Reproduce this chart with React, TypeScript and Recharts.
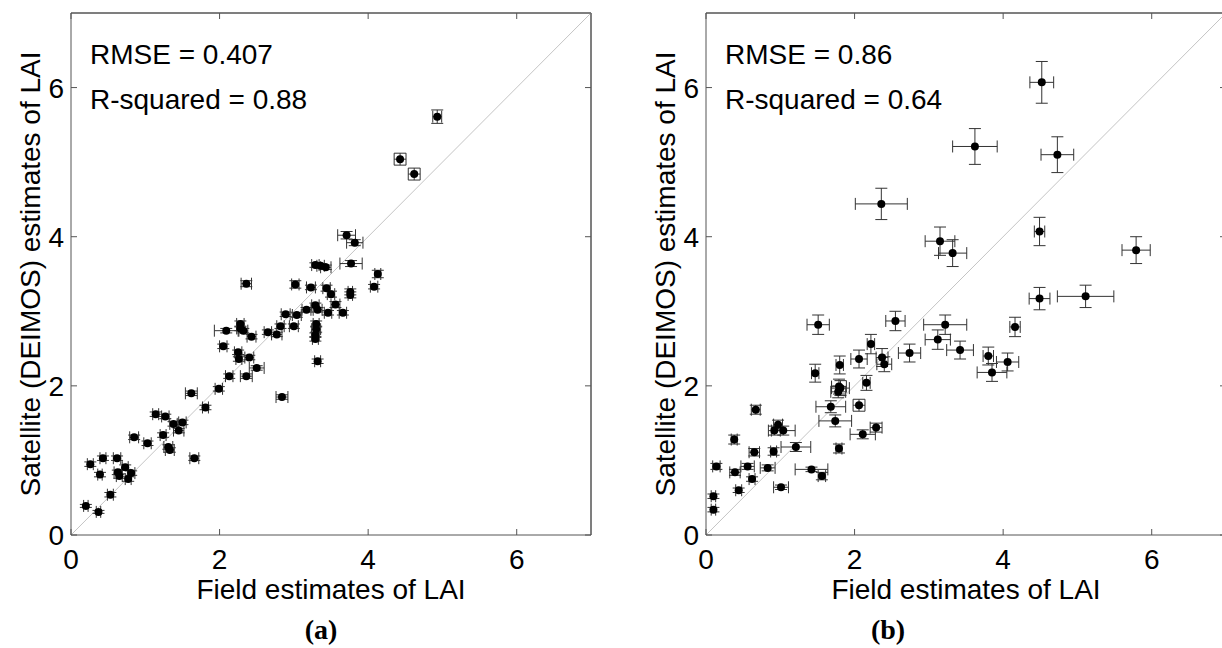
import React from "react";
import { ScatterChart, Scatter, XAxis, YAxis, ErrorBar, ReferenceLine, Label } from "recharts";

// axis ticks shared by both panels
const tickValues = [0, 2, 4, 6];
const axisDomain = [0, 7];

// panel (a): field LAI vs satellite LAI, with x / y error half-widths
const fieldA = [
  4.93, 4.43, 4.62, 3.71, 3.82, 3.77, 3.29, 3.36, 3.43, 4.13, 4.08, 2.36, 3.02, 3.23, 3.44, 3.5, 3.76, 3.76, 3.56,
  3.29, 3.32, 3.17, 3.46, 3.66, 2.89, 3.04, 2.28, 2.28, 2.09, 2.32, 2.43, 2.65, 2.77, 2.82, 3.0, 3.3, 3.3, 3.29,
  3.29, 3.32, 2.05, 2.25, 2.26, 2.4, 2.5, 2.13, 2.36, 1.99, 1.62, 2.84, 1.81, 1.14, 1.27, 1.38, 1.5, 1.45, 1.24,
  0.85, 1.03, 1.31, 1.33, 1.66, 0.43, 0.62, 0.26, 0.73, 0.63, 0.65, 0.39, 0.81, 0.77, 0.53, 0.2, 0.37,
];
const satA = [
  5.61, 5.04, 4.84, 4.02, 3.92, 3.64, 3.62, 3.61, 3.59, 3.5, 3.33, 3.37, 3.36, 3.32, 3.31, 3.23, 3.26, 3.22, 3.09,
  3.08, 3.02, 3.02, 2.98, 2.98, 2.96, 2.95, 2.83, 2.77, 2.74, 2.74, 2.66, 2.72, 2.69, 2.8, 2.8, 2.83, 2.76, 2.68,
  2.63, 2.33, 2.53, 2.45, 2.36, 2.38, 2.24, 2.13, 2.13, 1.96, 1.9, 1.85, 1.71, 1.62, 1.59, 1.49, 1.51, 1.4, 1.34,
  1.31, 1.23, 1.18, 1.14, 1.03, 1.03, 1.03, 0.95, 0.91, 0.84, 0.79, 0.81, 0.83, 0.75, 0.54, 0.39, 0.31,
];
const errFieldA = [
  0.06, 0.08, 0.08, 0.12, 0.11, 0.15, 0.05, 0.05, 0.07, 0.04, 0.05, 0.07, 0.05, 0.06, 0.05, 0.05, 0.03, 0.03, 0.06,
  0.05, 0.06, 0.06, 0.05, 0.05, 0.06, 0.06, 0.05, 0.05, 0.16, 0.06, 0.06, 0.05, 0.07, 0.05, 0.06, 0.04, 0.06, 0.05,
  0.04, 0.04, 0.05, 0.05, 0.04, 0.06, 0.1, 0.05, 0.08, 0.05, 0.08, 0.08, 0.04, 0.04, 0.05, 0.05, 0.05, 0.07, 0.04,
  0.06, 0.05, 0.06, 0.06, 0.06, 0.04, 0.05, 0.04, 0.04, 0.05, 0.04, 0.03, 0.05, 0.04, 0.04, 0.03, 0.03,
];
const errSatA = [
  0.09, 0.08, 0.08, 0.05, 0.04, 0.04, 0.03, 0.03, 0.03, 0.05, 0.03, 0.04, 0.05, 0.03, 0.04, 0.04, 0.04, 0.04, 0.04,
  0.03, 0.03, 0.03, 0.03, 0.03, 0.03, 0.03, 0.04, 0.03, 0.03, 0.03, 0.03, 0.03, 0.03, 0.03, 0.03, 0.04, 0.04, 0.03,
  0.03, 0.03, 0.03, 0.03, 0.03, 0.03, 0.03, 0.03, 0.03, 0.03, 0.03, 0.03, 0.03, 0.03, 0.03, 0.03, 0.03, 0.03, 0.03,
  0.03, 0.03, 0.03, 0.03, 0.03, 0.03, 0.03, 0.03, 0.03, 0.03, 0.03, 0.03, 0.03, 0.03, 0.03, 0.02, 0.02,
];

// panel (b)
const fieldB = [
  4.52, 3.62, 4.73, 2.36, 4.49, 3.15, 3.32, 5.79, 4.49, 5.11, 1.51, 2.55, 3.22, 4.16, 3.12, 2.22, 3.42, 2.74, 2.37,
  2.06, 3.8, 4.06, 3.85, 2.4, 1.8, 1.47, 2.16, 1.79, 1.81, 1.78, 1.68, 2.06, 1.74, 0.67, 0.97, 0.92, 1.04, 2.29,
  2.11, 1.21, 0.38, 1.79, 0.65, 0.91, 0.14, 0.56, 0.83, 1.42, 1.56, 0.39, 0.62, 1.01, 0.44, 0.1, 0.1,
];
const satB = [
  6.07, 5.21, 5.1, 4.44, 4.07, 3.94, 3.78, 3.82, 3.17, 3.2, 2.82, 2.87, 2.82, 2.79, 2.62, 2.56, 2.48, 2.44, 2.38,
  2.36, 2.4, 2.32, 2.18, 2.29, 2.28, 2.17, 2.04, 1.99, 1.97, 1.92, 1.72, 1.74, 1.53, 1.68, 1.48, 1.4, 1.4, 1.44,
  1.35, 1.18, 1.28, 1.16, 1.11, 1.12, 0.92, 0.92, 0.9, 0.88, 0.79, 0.84, 0.75, 0.64, 0.6, 0.52, 0.34,
];
const errFieldB = [
  0.16, 0.3, 0.22, 0.35, 0.07, 0.2, 0.19, 0.19, 0.14, 0.38, 0.15, 0.13, 0.29, 0.07, 0.17, 0.05, 0.18, 0.15, 0.08,
  0.11, 0.07, 0.15, 0.2, 0.1, 0.05, 0.05, 0.05, 0.1, 0.12, 0.1, 0.2, 0.08, 0.22, 0.06, 0.06, 0.08, 0.16, 0.08,
  0.17, 0.2, 0.04, 0.04, 0.07, 0.04, 0.05, 0.09, 0.1, 0.22, 0.05, 0.07, 0.04, 0.1, 0.04, 0.03, 0.03,
];
const errSatB = [
  0.28, 0.24, 0.24, 0.21, 0.19, 0.19, 0.18, 0.18, 0.15, 0.15, 0.13, 0.13, 0.13, 0.13, 0.13, 0.13, 0.12, 0.12, 0.12,
  0.12, 0.12, 0.12, 0.12, 0.1, 0.12, 0.12, 0.1, 0.1, 0.1, 0.08, 0.08, 0.08, 0.08, 0.06, 0.06, 0.06, 0.06, 0.06,
  0.06, 0.06, 0.06, 0.06, 0.05, 0.05, 0.04, 0.04, 0.04, 0.03, 0.05, 0.04, 0.03, 0.03, 0.03, 0.03, 0.03,
];

const build = (xs: number[], ys: number[], ex: number[], ey: number[]) =>
  xs.map((x, i) => ({ x, y: ys[i], ex: ex[i], ey: ey[i] }));

const dataA = build(fieldA, satA, errFieldA, errSatA);
const dataB = build(fieldB, satB, errFieldB, errSatB);

const FONT = "'Liberation Sans', Arial, sans-serif";
const BOX = "#555";
const tickStyle = { fill: "#000", fontSize: 28, fontFamily: FONT };

const Dot = (p: any) => <circle cx={p.cx} cy={p.cy} r={4} fill="#000" />;
const NoDot = () => <g />;
const NoTickLabel = () => <g />;

function Panel({ data, rmse, r2 }: { data: any[]; rmse: string; r2: string }) {
  const yAxisW = 71;
  const plotW = 520;
  const width = yAxisW + plotW + 2;
  return (
    <div style={{ position: "relative", width, height: 648 }}>
      <ScatterChart width={width} height={648} margin={{ top: 12, right: 1, bottom: 73, left: 0 }}>
        <XAxis
          type="number"
          dataKey="x"
          domain={axisDomain}
          ticks={tickValues}
          height={40}
          tickSize={-6}
          tickMargin={20}
          stroke={BOX}
          tick={tickStyle}
        >
          <Label
            content={(p: any) => (
              <text
                x={p.viewBox.x + p.viewBox.width / 2}
                y={p.viewBox.y + 64}
                textAnchor="middle"
                fontSize={28}
                fontFamily={FONT}
                fill="#000"
              >
                Field estimates of LAI
              </text>
            )}
          />
        </XAxis>
        <XAxis
          xAxisId="top"
          orientation="top"
          type="number"
          dataKey="x"
          domain={axisDomain}
          ticks={tickValues}
          height={1}
          tickSize={-6}
          tick={NoTickLabel}
          stroke={BOX}
        />
        <YAxis
          type="number"
          dataKey="y"
          domain={axisDomain}
          ticks={tickValues}
          width={yAxisW}
          tickSize={-6}
          tickMargin={13}
          stroke={BOX}
          tick={tickStyle}
        >
          <Label
            content={(p: any) => (
              <text
                transform={`translate(${p.viewBox.x + 40}, ${p.viewBox.y + p.viewBox.height / 2}) rotate(-90)`}
                textAnchor="middle"
                fontSize={28}
                fontFamily={FONT}
                fill="#000"
              >
                Satellite (DEIMOS) estimates of LAI
              </text>
            )}
          />
        </YAxis>
        <YAxis
          yAxisId="right"
          orientation="right"
          type="number"
          dataKey="y"
          domain={axisDomain}
          ticks={tickValues}
          width={1}
          tickSize={-6}
          tick={NoTickLabel}
          stroke={BOX}
        />
        <ReferenceLine x={7} stroke={BOX} strokeWidth={1} />
        <ReferenceLine y={7} stroke={BOX} strokeWidth={1} />
        <ReferenceLine
          segment={[
            { x: 0, y: 0 },
            { x: 7, y: 7 },
          ]}
          stroke="#c4c4c4"
          strokeWidth={1}
        />
        {/* invisible series so the top / right axes are drawn */}
        <Scatter data={data} xAxisId="top" yAxisId="right" shape={NoDot} isAnimationActive={false} />
        <Scatter data={data} shape={Dot} fill="#000" isAnimationActive={false}>
          <ErrorBar dataKey="ex" direction="x" width={6} stroke="#333" strokeWidth={1} isAnimationActive={false} />
          <ErrorBar dataKey="ey" direction="y" width={6} stroke="#333" strokeWidth={1} isAnimationActive={false} />
        </Scatter>
      </ScatterChart>
      <svg width={width} height={648} style={{ position: "absolute", left: 0, top: 0, pointerEvents: "none" }}>
        <text x={yAxisW + 19} y={64} fontSize={28} fontFamily={FONT} fill="#000">
          {rmse}
        </text>
        <text x={yAxisW + 19} y={109} fontSize={28} fontFamily={FONT} fill="#000">
          {r2}
        </text>
      </svg>
    </div>
  );
}

export default function App() {
  return (
    <div
      style={{
        position: "absolute",
        left: 0,
        top: 0,
        width: 1222,
        height: 648,
        overflow: "hidden",
        background: "#fff",
      }}
    >
      <div style={{ position: "absolute", left: 0, top: 0 }}>
        <Panel data={dataA} rmse="RMSE = 0.407" r2="R-squared = 0.88" />
      </div>
      <div style={{ position: "absolute", left: 635, top: 0 }}>
        <Panel data={dataB} rmse="RMSE = 0.86" r2="R-squared = 0.64" />
      </div>
      <svg width={1222} height={648} style={{ position: "absolute", left: 0, top: 0, pointerEvents: "none" }}>
        <text x={321} y={639} textAnchor="middle" fontSize={28} fontWeight="bold" fontFamily="'Liberation Serif', serif">
          (a)
        </text>
        <text x={888} y={639} textAnchor="middle" fontSize={28} fontWeight="bold" fontFamily="'Liberation Serif', serif">
          (b)
        </text>
      </svg>
    </div>
  );
}
